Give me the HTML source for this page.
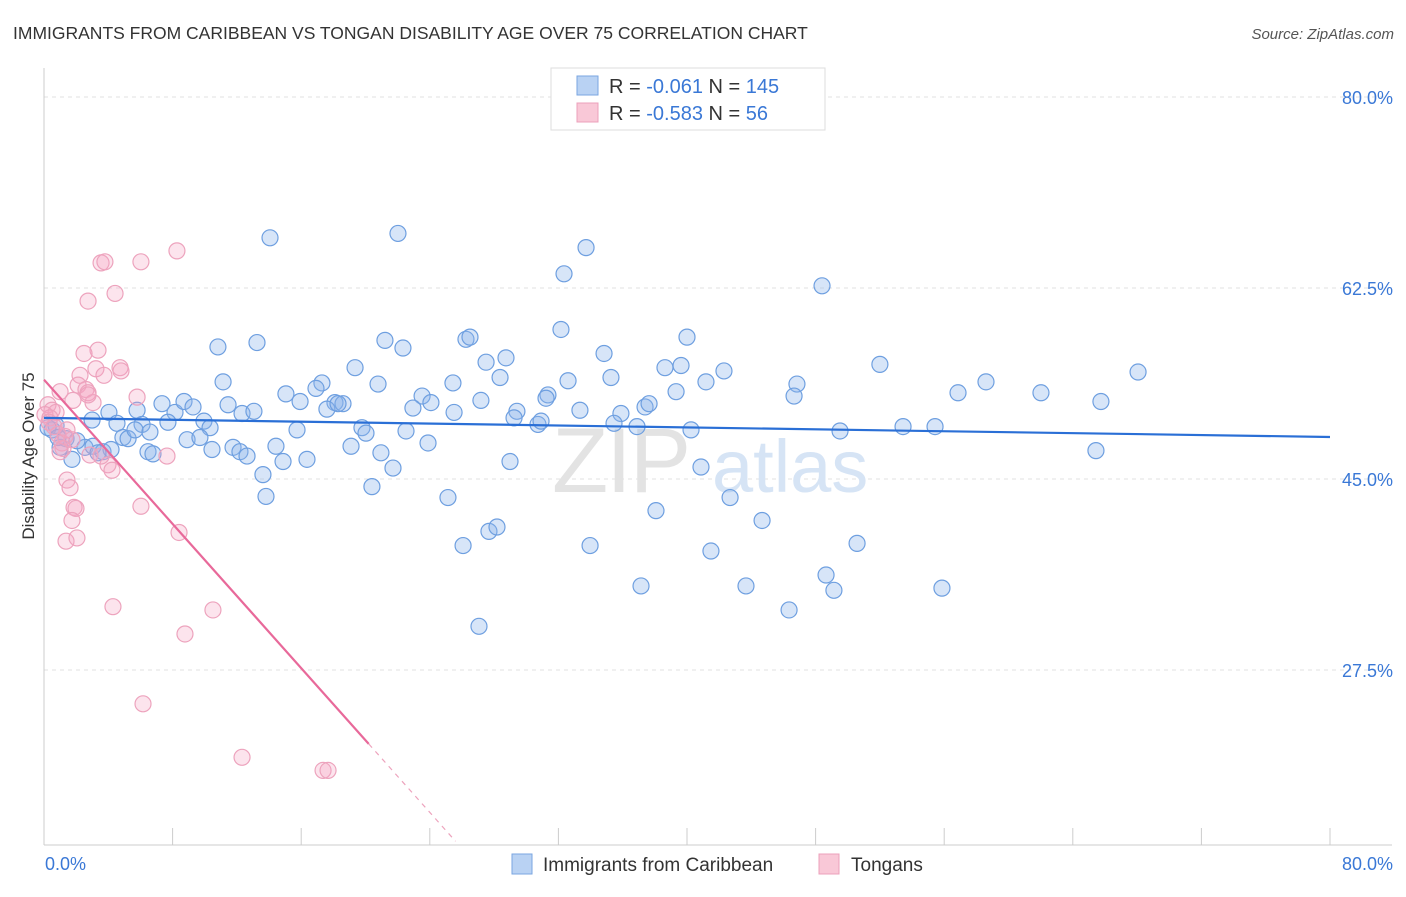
<!DOCTYPE html>
<html><head><meta charset="utf-8"><style>
body{margin:0;background:#fff;font-family:"Liberation Sans",sans-serif;}
svg text{font-family:"Liberation Sans",sans-serif;}
</style></head><body>
<svg id="chart" width="1406" height="892" xmlns="http://www.w3.org/2000/svg">
<text x="13" y="39" font-size="17.5" fill="#333">IMMIGRANTS FROM CARIBBEAN VS TONGAN DISABILITY AGE OVER 75 CORRELATION CHART</text>
<text x="1394" y="39" font-size="15" fill="#555" font-style="italic" text-anchor="end">Source: ZipAtlas.com</text>
<g id="grid"></g>
<g><text x="552" y="492" font-size="92" fill="#e3e3e3" font-family="Liberation Serif" letter-spacing="-2">ZIP</text><text x="712" y="492" font-size="74" fill="#d6e4f5">atlas</text></g>
<g id="axes"></g>
<g id="pts"></g>
<g id="lines"></g>
<text transform="translate(34,456) rotate(-90)" font-size="17" fill="#333" text-anchor="middle">Disability Age Over 75</text>
<g>
<rect x="551" y="68" width="274" height="62" fill="#fff" stroke="#ddd"/>
<rect x="577" y="76" width="21" height="19" fill="#b9d2f3" stroke="#7aa6e0"/>
<rect x="577" y="103" width="21" height="19" fill="#f9c8d7" stroke="#eca0bb"/>
<text x="609" y="93" font-size="20" fill="#333">R = <tspan fill="#3a78d6">-0.061</tspan>   N = <tspan fill="#3a78d6">145</tspan></text>
<text x="609" y="120" font-size="20" fill="#333">R = <tspan fill="#3a78d6">-0.583</tspan>   N =   <tspan fill="#3a78d6">56</tspan></text>
</g>
<g>
<rect x="512" y="854" width="20" height="20" fill="#b9d2f3" stroke="#7aa6e0"/>
<text x="543" y="871" font-size="19" fill="#333">Immigrants from Caribbean</text>
<rect x="819" y="854" width="20" height="20" fill="#f9c8d7" stroke="#eca0bb"/>
<text x="851" y="871" font-size="19" fill="#333">Tongans</text>
</g>
</svg>
<script>
const yTicks=[27.5,45.0,62.5,80.0];
const xTickLabels=["0.0%","80.0%"];
const blueX=[14.06,22.02,33.72,32.35,48.4,10.82,13.25,21.21,22.33,26.25,26.5,32.16,40.0,34.84,27.5,28.74,19.35,38.63,39.63,42.3,52.0,68.06,11.14,20.78,28.37,32.6,35.27,41.18,46.84,46.66,56.86,58.6,62.02,65.75,15.05,15.93,17.29,16.92,18.1,18.6,23.52,24.07,22.95,25.44,27.18,31.35,31.23,33.34,35.89,37.39,37.64,39.32,4.04,5.79,7.34,8.15,8.71,9.27,11.45,12.32,13.06,15.74,17.6,18.29,19.78,20.03,22.52,23.89,25.51,29.42,29.24,30.73,30.92,35.46,36.89,40.25,49.52,53.44,55.43,65.44,2.99,4.54,6.1,7.71,9.95,10.33,0.5,1.37,1.0,1.74,2.55,3.05,3.67,4.17,4.91,5.23,6.47,6.78,8.9,9.7,10.45,11.76,12.19,12.63,14.43,14.87,16.36,19.1,20.96,21.71,13.62,13.81,20.4,25.13,28.99,40.87,42.68,38.07,44.67,26.07,27.68,28.18,33.97,41.49,50.58,48.65,37.14,43.67,49.14,55.86,46.35,27.06,0.75,0.25,0.87,2.05,3.36,5.66,6.59];
const blueY=[67.1,67.5,66.2,63.8,62.7,57.1,57.5,57.7,57.0,57.8,58.0,58.7,58.0,56.5,55.7,56.1,55.2,55.2,55.4,54.9,55.5,54.8,53.9,53.7,54.3,54.0,54.3,53.9,53.7,52.6,52.9,53.9,52.9,52.1,52.8,52.1,53.8,53.3,52.0,51.9,52.6,52.0,51.5,53.8,52.2,52.7,52.4,51.3,51.0,51.6,51.9,53.0,51.1,51.3,51.9,51.1,52.1,51.6,51.8,51.0,51.2,49.5,51.4,51.9,49.7,49.2,49.4,48.3,51.1,51.2,50.6,50.0,50.3,50.1,49.8,49.5,49.4,49.8,49.8,47.6,50.4,50.1,50.0,50.2,50.3,49.7,49.5,48.7,47.9,46.8,47.9,48.0,47.5,47.7,48.8,48.7,47.5,47.3,48.6,48.8,47.7,47.9,47.5,47.1,48.0,46.6,46.8,48.0,47.4,46.0,45.4,43.4,44.3,43.3,46.6,46.1,43.3,42.1,41.2,38.9,40.2,40.6,38.9,38.4,39.1,36.2,35.2,35.2,34.8,35.0,33.0,31.5,49.9,49.7,48.8,48.5,47.4,49.5,49.3];
const pinkX=[8.27,3.55,3.79,6.03,4.42,2.74,3.36,2.49,4.73,3.23,3.73,4.79,2.24,2.12,2.61,2.74,1.0,5.79,1.8,3.05,0.25,0.5,0.75,0.06,0.37,0.31,0.62,0.87,1.31,1.12,1.74,1.18,1.0,2.86,3.98,4.23,7.65,1.43,1.62,1.87,1.99,6.03,1.74,1.37,2.05,8.4,4.29,10.51,8.77,6.16,12.32,17.36,17.67,1.43,3.55,2.74];
const pinkY=[65.9,64.8,64.9,64.9,62.0,61.3,56.8,56.5,55.2,55.1,54.5,54.9,54.5,53.6,53.2,52.9,53.0,52.5,52.2,52.0,51.8,51.3,51.1,50.9,50.6,50.2,49.8,49.1,48.9,48.3,48.6,47.8,47.5,47.2,46.3,45.8,47.1,44.9,44.2,42.4,42.3,42.5,41.2,39.3,39.6,40.1,33.3,33.0,30.8,24.4,19.5,18.3,18.3,49.5,47.1,52.7];
const blueTrend=[50.6,48.85];
const pinkTrend=[54.1,-1.652];
const NS="http://www.w3.org/2000/svg";
const X0=44,X1=1330,YT=97,PPY=10.914;
const xs=v=>X0+(v/80)*(X1-X0);
const ys=v=>YT+(80-v)*PPY;
function mk(tag,attrs,parent){const e=document.createElementNS(NS,tag);for(const k in attrs)e.setAttribute(k,attrs[k]);parent.appendChild(e);return e;}
const grid=document.getElementById('grid'),axes=document.getElementById('axes');
yTicks.forEach(t=>{
 const l=mk('line',{x1:X0,x2:1392,y1:ys(t),y2:ys(t),stroke:'#e2e2e2','stroke-dasharray':'4,4'},grid);
 
 
 const tx=mk('text',{x:1393,y:ys(t)+7,'font-size':18,fill:'#3a78d6','text-anchor':'end'},axes);
 tx.textContent=t.toFixed(1)+'%';
 
 
});
mk('line',{x1:X0,x2:X0,y1:68,y2:845,stroke:'#ccc'},axes);
mk('line',{x1:X0,x2:1392,y1:845,y2:845,stroke:'#ccc'},axes);
for(let i=1;i<=10;i++){const x=xs(i*8);const t=mk('line',{x1:x,x2:x,y1:828,y2:845,stroke:'#ccc'},axes);
 
 }
const xl0=mk('text',{x:45,y:870,'font-size':18,fill:'#3a78d6'},axes);xl0.textContent=xTickLabels[0];


const xl1=mk('text',{x:1393,y:870,'font-size':18,fill:'#3a78d6','text-anchor':'end'},axes);xl1.textContent=xTickLabels[1];


const pts=document.getElementById('pts');
blueX.forEach((v,i)=>{const c=mk('circle',{cx:xs(v),cy:ys(blueY[i]),r:8,fill:'rgba(140,180,235,0.35)',stroke:'#6e9fe0','stroke-width':1.2},pts);
 
 });
pinkX.forEach((v,i)=>{const c=mk('circle',{cx:xs(v),cy:ys(pinkY[i]),r:8,fill:'rgba(245,165,195,0.3)',stroke:'#eda3bd','stroke-width':1.2},pts);
 
 });
const lines=document.getElementById('lines');
const bl=mk('line',{x1:xs(0),y1:ys(blueTrend[0]),x2:xs(80),y2:ys(blueTrend[1]),stroke:'#2a6fd6','stroke-width':2.2},lines);


const pe=20.2,pd=25.6;
const pl=mk('line',{x1:xs(0),y1:ys(pinkTrend[0]),x2:xs(pe),y2:ys(pinkTrend[0]+pinkTrend[1]*pe),stroke:'#e8699a','stroke-width':2.2},lines);


const pdl=mk('line',{x1:xs(pe),y1:ys(pinkTrend[0]+pinkTrend[1]*pe),x2:xs(pd),y2:ys(pinkTrend[0]+pinkTrend[1]*pd),stroke:'#eda3bd','stroke-width':1.2,'stroke-dasharray':'5,5'},lines);


</script>
</body></html>
